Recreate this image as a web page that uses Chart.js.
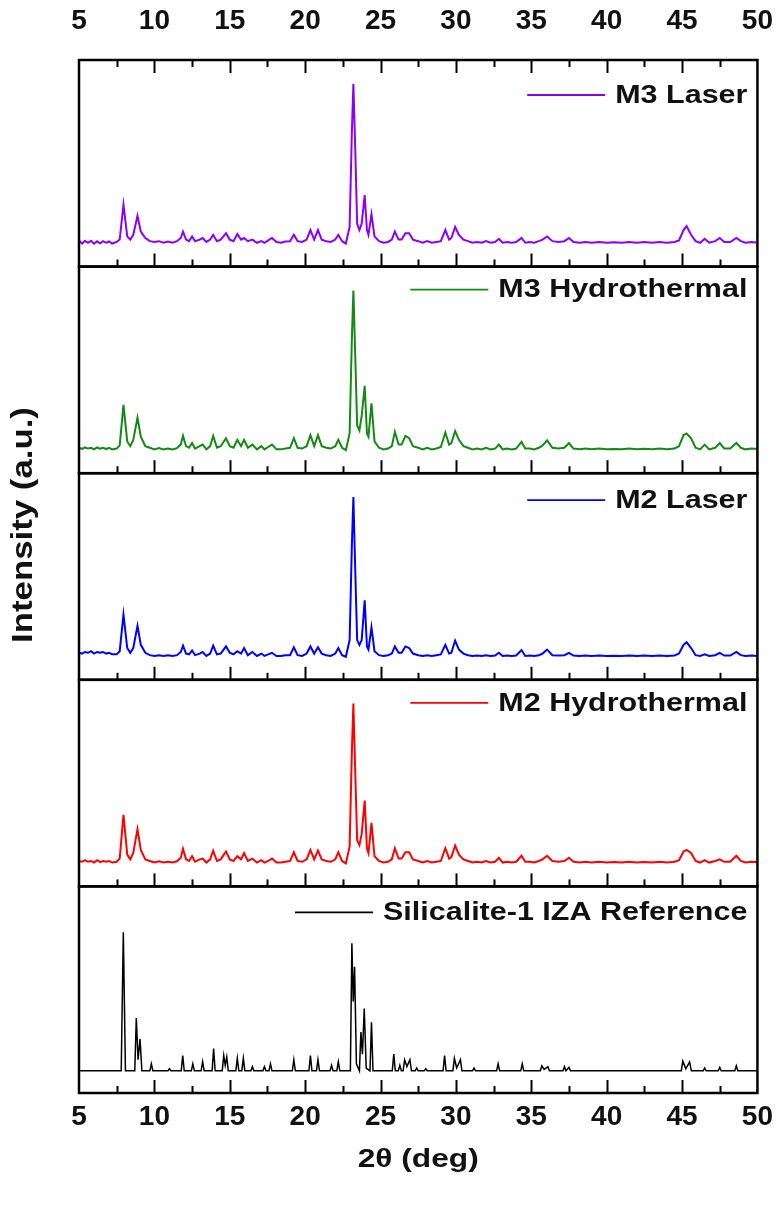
<!DOCTYPE html>
<html>
<head>
<meta charset="utf-8">
<script src="https://cdn.jsdelivr.net/npm/chart.js@4.4.1/dist/chart.umd.min.js"></script>
<style>
  body { margin: 0; background: #fff; }
  canvas { display: block; }
</style>
</head>
<body>
<canvas id="xrd" width="778" height="1207" style="width:778px;height:1207px"></canvas>
<script>
// 2theta grid shared by the four measured patterns
const twoTheta = [
  5.0, 5.2, 5.4, 5.6, 5.8, 6.0, 6.2, 6.4, 6.6, 6.8,
  7.0, 7.2, 7.5, 7.7, 7.95, 8.2, 8.4, 8.6, 8.88, 9.1,
  9.4, 9.7, 10.0, 10.3, 10.6, 10.9, 11.2, 11.5, 11.75, 11.9,
  12.1, 12.3, 12.5, 12.7, 13.0, 13.2, 13.45, 13.7, 13.9, 14.15,
  14.4, 14.75, 15.0, 15.25, 15.5, 15.75, 15.95, 16.2, 16.5, 16.8,
  17.1, 17.3, 17.55, 17.8, 18.1, 18.4, 18.7, 19.0, 19.25, 19.5,
  19.8, 20.1, 20.35, 20.6, 20.85, 21.1, 21.4, 21.7, 22.0, 22.2,
  22.45, 22.7, 22.95, 23.1, 23.2, 23.32, 23.45, 23.6, 23.75, 23.95,
  24.1, 24.2, 24.4, 24.6, 24.9, 25.2, 25.5, 25.75, 25.95, 26.2,
  26.4, 26.65, 26.9, 27.15, 27.5, 27.8, 28.1, 28.4, 28.7, 29.0,
  29.3, 29.55, 29.7, 29.95, 30.2, 30.5, 30.8, 31.1, 31.4, 31.7,
  32.0, 32.3, 32.6, 32.85, 33.1, 33.4, 33.7, 34.0, 34.35, 34.6,
  34.9, 35.2, 35.5, 35.75, 36.05, 36.4, 36.8, 37.2, 37.5, 37.8,
  38.2, 38.6, 39.0, 39.5, 40.0, 40.5, 41.0, 41.5, 42.0, 42.5,
  43.0, 43.5, 44.0, 44.5, 44.8, 45.1, 45.3, 45.6, 45.9, 46.2,
  46.5, 46.8, 47.2, 47.5, 47.8, 48.2, 48.6, 48.9, 49.2, 49.6,
  50.0
]

const m3Laser = [
  1.5, -0.5, 1.2, 0, 1.3, -0.6, 0.9, -0.3, 1.0, 0,
  0.8, -0.5, 0.5, 2, 24, 4, 2, 5, 17, 7,
  3, 1, 0.5, 1, 0, 0.8, 0, 1, 3, 7,
  2, 1, 4, 1, 2, 3, 0.5, 2, 5, 1,
  2, 6, 2, 1, 5.5, 2, 3, 1, 2, 0,
  1, 0, 1.5, 3, 0.5, 0, 0.8, 1, 5, 1,
  0.5, 2, 8, 2, 8, 2, 1, 0.5, 2, 5,
  1, -0.5, 10, 70, 100, 60, 12, 8, 12, 30,
  8, 5, 18, 4, 1, 0, 0.5, 2, 7, 2,
  2, 6, 6, 2, 1, 0, 1, 0, 0.5, 1,
  8, 2, 3, 10, 5, 2, 1, 0, 0.5, 0,
  1, 0, 0.5, 2.5, 0, 0.5, 0, 0.5, 3, 0,
  0.5, 0, 1, 2, 4, 1, 0.5, 1, 3, 0.5,
  0, 0.5, 0, 0.5, 0, 0.3, 0, 0.5, 0, 0.4,
  0, 0.5, 0, 0.5, 1.5, 8, 10.5, 5, 1, 0,
  2.5, 0, 1, 3, 0.5, 0.5, 3, 1, 0, 0.5,
  0
]

const m3Hydro = [
  1, 0.3, 1.2, 0.5, 1, 0, 1.2, 0.4, 1, 0.2,
  1, 0, 0.5, 2.5, 28, 5, 2, 6, 20, 8,
  2, 1, 0, 0.8, 0, 0.5, 0, 0.8, 3, 8.5,
  2, 1, 4, 0.5, 2, 3, 0, 2, 8.5, 1,
  2, 7, 2, 1, 6, 2, 6, 1, 3, 0,
  2, 0, 1.5, 3, 0, 0, 0.5, 1, 7, 1,
  0.5, 2, 9, 2, 9, 2, 1, 0.5, 2, 6,
  1, -0.5, 10, 70, 100, 60, 15, 12, 21, 40,
  10, 8, 29, 5, 1, 0, 0.5, 2, 11, 3,
  3, 8.5, 7, 2, 1, 0, 1, 0, 0.5, 1.5,
  10.6, 3, 4, 11.5, 6, 2, 1, 0, 0.5, 0,
  1, 0, 0.5, 3, 0, 0.5, 0, 0.5, 4.7, 0.5,
  0.5, 0, 1, 2.5, 5.7, 1, 0.5, 1, 4, 0.5,
  0, 0.5, 0, 0.5, 0, 0.3, 0, 0.5, 0, 0.4,
  0, 0.5, 0, 0.5, 2, 9, 10, 7, 1, 0,
  3, 0, 1, 4, 0.5, 0.5, 4, 1, 0, 0.5,
  0.3
]

const m2Laser = [
  2, 1.5, 2.5, 2, 3, 1.5, 2.5, 2, 2.5, 1.5,
  2, 1, 1, 3, 26, 5, 2, 5, 19, 7,
  2, 0.5, 0, 0.5, 0, 0.5, 0, 0.5, 2.5, 6.5,
  1.5, 1, 3.5, 0.5, 1.5, 2.5, 0, 1.5, 6.5, 1,
  1.5, 6, 2, 1, 3, 1.5, 5, 0.5, 2.5, 0,
  1.5, 0, 1, 2, 0, 0, 0.5, 0.5, 5.5, 0.5,
  0, 1.5, 6, 1.5, 5.5, 1.5, 0.5, 0, 1.5, 5,
  0.5, -0.5, 10, 70, 100, 55, 10, 7, 10, 35,
  6, 4, 18, 3, 0.5, 0, 0.5, 1.5, 6, 2,
  2, 6, 5, 1.5, 0.5, 0, 0.5, 0, 0.5, 1,
  7, 1.5, 2, 9.6, 4, 1.5, 0.5, 0, 0.3, 0,
  0.5, 0, 0.3, 2, 0, 0.3, 0, 0.3, 3.7, 0,
  0.3, 0, 0.5, 1.5, 4, 0.5, 0.3, 0.5, 2, 0.3,
  0, 0.3, 0, 0.3, 0, 0.2, 0, 0.3, 0, 0.3,
  0, 0.3, 0, 0.3, 1.5, 7, 8.7, 5, 0.5, 0,
  1, 0, 0.5, 2, 0.3, 0.3, 2.6, 0.5, 0, 0.3,
  0
]

const m2Hydro = [
  1, 0.5, 1.5, 0.5, 1, 0, 1.5, 0.3, 1, 0.5,
  1, 0, 0.5, 2.5, 30, 5, 2, 6, 21, 8,
  2, 1, 0, 0.8, 0, 0.5, 0, 0.8, 3, 8.6,
  2, 1, 4, 0.5, 2, 2.5, 0, 2, 7.5, 1,
  2, 7, 2, 1, 4, 2, 6, 1, 2.5, 0,
  1.5, 0, 1, 2.5, 0, 0, 0.5, 1, 6.5, 1,
  0.5, 2, 8, 2, 7.5, 2, 1, 0.5, 2, 6.5,
  1, -0.5, 10, 70, 100, 58, 14, 11, 18, 39,
  9, 6, 25, 4, 1, 0, 0.5, 2, 9, 2.5,
  2.5, 6.5, 6.5, 2, 1, 0, 1, 0, 0.5, 1,
  9, 2.5, 3.5, 10.7, 5, 2, 1, 0, 0.5, 0,
  1, 0, 0.5, 3, 0, 0.5, 0, 0.5, 4.3, 0.5,
  0.5, 0, 1, 2, 4.3, 1, 0.5, 1, 3, 0.5,
  0, 0.5, 0, 0.5, 0, 0.3, 0, 0.5, 0, 0.4,
  0, 0.5, 0, 0.5, 1.5, 7, 8, 6, 1, 0,
  1.5, 0, 1, 2, 0.5, 0.5, 4.3, 1, 0, 0.5,
  0.3
]

// simulated silicalite-1 (IZA) pattern, sharp lines
const izaRef = [
  [5.0, 0], [7.8, 0], [7.94, 100], [8.08, 0], [8.7, 0], [8.8, 38], [8.92, 8], [9.05, 23], [9.17, 0],
  [9.7, 0], [9.8, 5], [9.9, 0], [10.9, 0], [11.0, 1.5], [11.1, 0], [11.78, 0], [11.88, 11], [11.98, 0],
  [12.45, 0], [12.55, 5], [12.65, 0], [13.1, 0], [13.2, 6.5], [13.3, 0], [13.83, 0], [13.93, 16], [14.03, 0],
  [14.5, 0], [14.6, 11], [14.7, 4], [14.8, 10], [14.9, 0], [15.4, 0], [15.5, 9], [15.6, 0],
  [15.8, 0], [15.9, 9], [16.0, 0], [16.4, 0], [16.5, 3], [16.6, 0], [17.2, 0], [17.3, 3], [17.4, 0],
  [17.6, 0], [17.7, 5], [17.8, 0], [19.15, 0], [19.25, 8], [19.35, 0], [20.25, 0], [20.35, 11], [20.45, 0],
  [20.75, 0], [20.85, 8], [20.95, 0], [21.65, 0], [21.75, 4], [21.85, 0], [22.1, 0], [22.2, 6.5], [22.3, 0],
  [23.0, 0], [23.1, 92], [23.19, 50], [23.28, 75], [23.4, 5], [23.6, 0], [23.7, 28], [23.8, 12],
  [23.92, 45], [24.05, 2], [24.3, 0], [24.4, 35], [24.5, 0], [25.78, 0], [25.88, 12], [25.98, 0],
  [26.18, 0], [26.28, 4], [26.38, 0], [26.5, 0], [26.6, 8], [26.75, 3], [26.95, 8], [27.05, 0],
  [27.3, 0], [27.4, 2], [27.5, 0], [27.9, 0], [28.0, 1.5], [28.1, 0], [29.15, 0], [29.25, 11], [29.35, 0],
  [29.8, 0], [29.9, 9], [30.05, 2], [30.3, 8], [30.4, 0], [31.1, 0], [31.2, 2], [31.3, 0],
  [32.7, 0], [32.8, 5], [32.9, 0], [34.3, 0], [34.4, 5], [34.5, 0], [35.6, 0], [35.7, 3.6], [35.85, 1],
  [36.1, 3], [36.2, 0], [37.1, 0], [37.2, 3], [37.3, 0], [37.5, 2.5], [37.6, 0],
  [44.95, 0], [45.05, 7], [45.25, 1.5], [45.5, 6.5], [45.62, 0], [46.4, 0], [46.5, 2], [46.6, 0],
  [47.4, 0], [47.5, 2.5], [47.6, 0], [48.5, 0], [48.6, 3.6], [48.7, 0], [50.0, 0]
]

const panelNames = ['M3 Laser', 'M3 Hydrothermal', 'M2 Laser', 'M2 Hydrothermal', 'Silicalite-1 IZA Reference']
const panelColors = ['#8a00ff', '#138a13', '#0000ff', '#ff0000', '#000000']
const panelAxes = ['y1', 'y2', 'y3', 'y4', 'y5']
const legendDrop = [35, 23, 27, 23, 26]
const xTicks = [5, 10, 15, 20, 25, 30, 35, 40, 45, 50]

const FONT = '"Liberation Sans", Arial, sans-serif'

function toPoints(ys) {
  return twoTheta.map((x, i) => ({ x: x, y: ys[i] }))
}

const seriesList = [m3Laser, m3Hydro, m2Laser, m2Hydro]
const datasets = seriesList.map((ys, i) => ({
  label: panelNames[i],
  data: toPoints(ys),
  borderColor: panelColors[i],
  borderWidth: 2,
  pointRadius: 0,
  tension: 0,
  xAxisID: 'x',
  yAxisID: panelAxes[i]
}))
datasets.push({
  label: panelNames[4],
  data: izaRef.map(p => ({ x: p[0], y: p[1] })),
  borderColor: panelColors[4],
  borderWidth: 1.5,
  pointRadius: 0,
  tension: 0,
  xAxisID: 'x',
  yAxisID: 'y5'
})

// lineHeight is used to place the labels away from the frame (padding also widens the side margins)
function xAxis(pos, h, lh) {
  return {
    type: 'linear',
    position: pos,
    min: 5,
    max: 50,
    afterBuildTicks: s => { s.ticks = xTicks.map(v => ({ value: v })) },
    ticks: { padding: 5, color: '#111', font: { family: FONT, size: 28, weight: 'bold', lineHeight: lh }, maxRotation: 0, autoSkip: false },
    grid: { display: false, drawTicks: false },
    border: { display: false },
    afterFit: s => { s.height = h }
  }
}

function panelAxis(weight, min, max) {
  return {
    type: 'linear',
    position: 'left',
    stack: 'panels',
    stackWeight: 1,
    weight: weight,
    min: min,
    max: max,
    ticks: { display: false },
    grid: { display: false, drawTicks: false },
    border: { display: false },
    afterFit: s => { s.width = 0 }
  }
}

// frames, inward ticks, per-panel legends and axis titles
const decor = {
  id: 'decor',
  afterDraw(chart) {
    const c = chart.ctx
    const area = chart.chartArea
    const xs = chart.scales.x
    c.save()
    c.strokeStyle = '#000'
    panelAxes.forEach((id, i) => {
      const s = chart.scales[id]
      c.lineWidth = 2.5
      c.strokeRect(area.left, s.top, area.right - area.left, s.bottom - s.top)
      c.lineWidth = 2
      for (let v = 7.5; v < 50; v += 2.5) {
        const px = Math.round(xs.getPixelForValue(v)) + 0.5
        const len = v % 5 === 0 ? 13 : 7
        c.beginPath()
        c.moveTo(px, s.bottom)
        c.lineTo(px, s.bottom - len)
        if (i === 0) {
          c.moveTo(px, s.top)
          c.lineTo(px, s.top + len)
        }
        c.stroke()
      }

      // legend entry
      const y = s.top + legendDrop[i]
      c.font = 'bold 25px ' + FONT
      const w = c.measureText(panelNames[i]).width * 1.22
      const tx = area.right - 10 - w
      c.save()
      c.translate(tx, y)
      c.scale(1.22, 1)
      c.fillStyle = '#111'
      c.textBaseline = 'middle'
      c.fillText(panelNames[i], 0, 1)
      c.restore()
      c.strokeStyle = panelColors[i]
      c.lineWidth = 1.8
      c.beginPath()
      c.moveTo(tx - 88, y)
      c.lineTo(tx - 10, y)
      c.stroke()
      c.strokeStyle = '#000'
    })

    c.fillStyle = '#111'
    c.textAlign = 'center'
    c.textBaseline = 'middle'
    c.save()
    c.translate((area.left + area.right) / 2, 1160)
    c.scale(1.22, 1)
    c.font = 'bold 26px ' + FONT
    c.fillText('2θ (deg)', 0, 0)
    c.restore()
    c.save()
    c.translate(24, 525)
    c.rotate(-Math.PI / 2)
    c.scale(1.2, 1)
    c.font = 'bold 29px ' + FONT
    c.fillText('Intensity (a.u.)', 0, 0)
    c.restore()
    c.restore()
  }
}

const chart = new Chart(document.getElementById('xrd'), {
  type: 'line',
  data: { datasets: datasets },
  options: {
    responsive: false,
    animation: false,
    layout: { padding: { left: 79, right: 5, top: 0, bottom: 0 } },
    plugins: { legend: { display: false }, tooltip: { enabled: false } },
    scales: {
      x: xAxis('bottom', 114, 1.36),
      xTop: xAxis('top', 60, 2.43),
      y1: panelAxis(5, -15, 115),
      y2: panelAxis(4, -15, 115),
      y3: panelAxis(3, -15, 115),
      y4: panelAxis(2, -15, 115),
      y5: panelAxis(1, -16, 133)
    }
  },
  plugins: [decor]
})
</script>
</body>
</html>
